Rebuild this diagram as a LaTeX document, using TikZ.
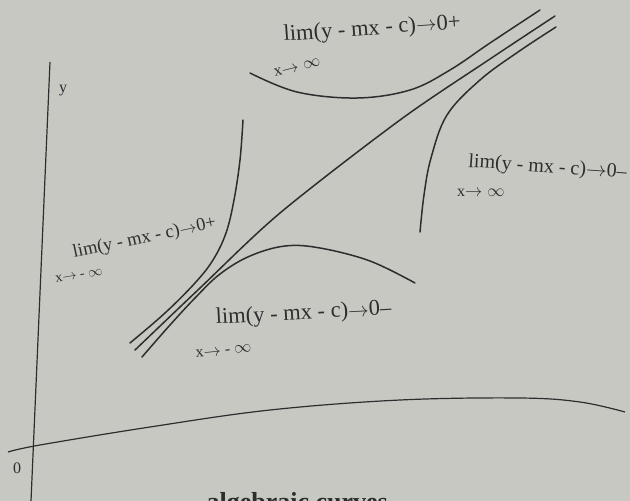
\documentclass[tikz,border=0pt]{standalone}
\usepackage{fontspec}
\setmainfont{Liberation Serif}
\definecolor{paper}{RGB}{200,200,195}
\definecolor{ink}{RGB}{45,45,45}
\begin{document}
\begin{tikzpicture}[x=1pt,y=-1pt,
  curve/.style={draw=ink,line width=1.5pt,line cap=round},
  axis/.style={draw=ink,line width=1.2pt},
  lbl/.style={text=ink,inner sep=0pt,anchor=base west,font=\fontsize{22.5}{24}\selectfont},
  sub/.style={text=ink,inner sep=0pt,anchor=base west,font=\fontsize{16}{18}\selectfont}]
\useasboundingbox (0,0) rectangle (630,501);
\fill[paper] (0,0) rectangle (630,501);
\begin{scope}
\clip (0,0) rectangle (630,501);
% axes
\draw[axis] (50,62) -- (31,501);
\draw[axis] plot[smooth,tension=0.6] coordinates {(8,452) (40,445) (150,427) (270,410) (400,400) (520,398) (580,402) (625,412)};
\node[sub] (ylab) at (59,92) {y};
\node[sub] (olab) at (13,473) {0};
% asymptote
\draw[curve] plot[smooth,tension=0.5] coordinates {(135,350) (200,288) (280,213) (400,120) (490,59) (555,16)};
% top branch (x -> +inf, above)
\draw[curve] plot[smooth,tension=0.6] coordinates {(250,73) (297,92) (357,98) (410,90) (450,70) (490,43) (540,10)};
% right branch (x -> +inf, below)
\draw[curve] plot[smooth,tension=0.6] coordinates {(420,232) (424,195) (431,158) (447,115) (480,80) (518,52) (556,27)};
% upper-left branch (x -> -inf, above)
\draw[curve] plot[smooth,tension=0.6] coordinates {(243,120) (240,160) (234,200) (226,233) (213,260) (195,283) (165,313) (130,343)};
% bottom branch (x -> -inf, below)
\draw[curve] plot[smooth,tension=0.6] coordinates {(415,283) (370,261) (320,248) (285,246) (250,256) (220,274) (195,298) (170,325) (142,357)};
% labels
\node[lbl,rotate=4] (t1) at (284,41) {lim(y - mx - c)$\to$0+};
\node[sub,rotate=14] (t1s) at (275,77) {x$\to\infty$};
\node[lbl,rotate=-4,font=\fontsize{20}{22}\selectfont] (t2) at (468,167) {lim(y - mx - c)$\to$0--};
\node[sub] (t2s) at (457,196) {x$\to\infty$};
\node[lbl,rotate=12,font=\fontsize{18.5}{20}\selectfont] (t3) at (74,258) {lim(y - mx - c)$\to$0+};
\node[sub,rotate=10,font=\fontsize{14}{16}\selectfont] (t3s) at (56,283) {x$\to$ - $\infty$};
\node[lbl,rotate=3] (t4) at (216,324) {lim(y - mx - c)$\to$0--};
\node[sub,rotate=6] (t4s) at (196,358) {x$\to$ - $\infty$};
\node[text=ink,inner sep=0pt,anchor=base east,font=\bfseries\fontsize{26}{28}\selectfont] (head) at (388,510) {algebraic curves};
\end{scope}
\end{tikzpicture}
\end{document}
